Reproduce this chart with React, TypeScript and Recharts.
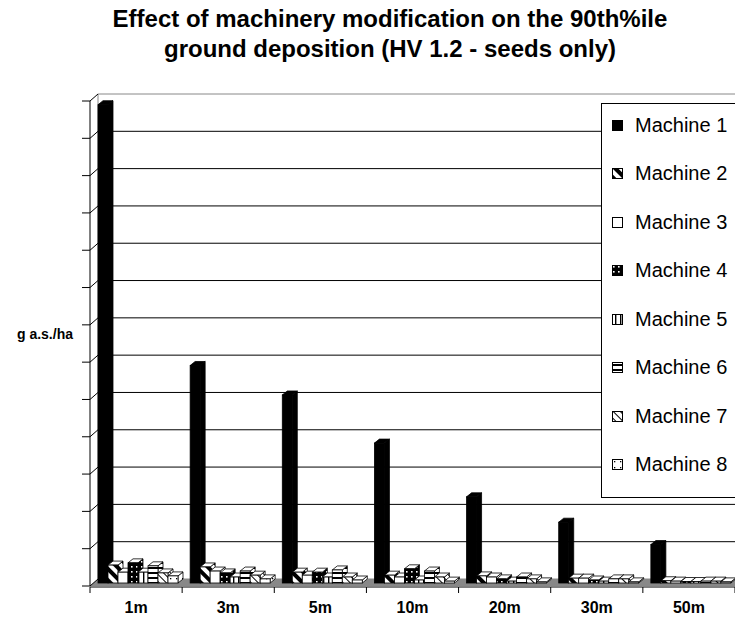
import React from 'react';
import { BarChart, Bar, XAxis, YAxis, CartesianGrid, ReferenceArea } from 'recharts';

const categories = ['1m', '3m', '5m', '10m', '20m', '30m', '50m'];
const machineNames = ['Machine 1', 'Machine 2', 'Machine 3', 'Machine 4', 'Machine 5', 'Machine 6', 'Machine 7', 'Machine 8'];

// g a.s./ha (axis has no numbers, unit = one gridline)
const machine1 = [12.82, 5.83, 5.04, 3.75, 2.31, 1.63, 1.03];
const machine2 = [0.48, 0.43, 0.29, 0.21, 0.19, 0.13, 0.06];
const machine3 = [0.29, 0.32, 0.21, 0.16, 0.16, 0.13, 0.05];
const machine4 = [0.54, 0.27, 0.29, 0.38, 0.11, 0.08, 0.04];
const machine5 = [0.29, 0.16, 0.16, 0.08, 0.05, 0.05, 0.04];
const machine6 = [0.46, 0.32, 0.35, 0.32, 0.16, 0.11, 0.05];
const machine7 = [0.27, 0.21, 0.16, 0.16, 0.11, 0.11, 0.05];
const machine8 = [0.19, 0.11, 0.08, 0.05, 0.03, 0.03, 0.03];

const yTicks = [0, 1, 2, 3, 4, 5, 6, 7, 8, 9, 10, 11, 12, 13];

const series = [machine1, machine2, machine3, machine4, machine5, machine6, machine7, machine8];
const fills = ['#000', 'url(#m2)', '#fff', 'url(#m4)', 'url(#m5)', 'url(#m6)', 'url(#m7)', 'url(#m8)'];

const data = categories.map((name, i) => {
  const row: Record<string, number | string> = { name };
  series.forEach((vals, s) => {
    row[`m${s + 1}`] = vals[i];
  });
  return row;
});

const W = 735;
const H = 617;
const TOP = 94;
const X_AXIS_H = 38;
const AXIS_W = 90;
const DEPTH_X = 8;
const DEPTH_Y = 7;
const BAR_DX = 5;
const BAR_DY = 4;
const FONT = '"Liberation Sans", Arial, sans-serif';
const STEP = (H - TOP - X_AXIS_H) / (yTicks.length - 1);
const BAND = (W - AXIS_W) / categories.length;

const YTick = (props: any) => {
  const { x, y, payload } = props;
  return (
    <g stroke="#000" strokeWidth={1} fill="none">
      <line x1={x - 8} y1={y + DEPTH_Y} x2={x} y2={y + DEPTH_Y} />
      <line x1={x} y1={y + DEPTH_Y} x2={x + DEPTH_X} y2={y} />
      {payload.value > 0 && <line x1={x} y1={y + DEPTH_Y} x2={x} y2={y + DEPTH_Y + STEP} />}
    </g>
  );
};

const XTick = (props: any) => {
  const { x, y, payload, index } = props;
  const left = x - BAND / 2;
  const right = x + BAND / 2;
  const ay = y + 8;
  return (
    <g>
      <line x1={left} y1={ay} x2={right} y2={ay} stroke="#000" />
      <line x1={left} y1={ay} x2={left} y2={ay + 6} stroke="#000" />
      {index === categories.length - 1 && <line x1={right} y1={ay} x2={right} y2={ay + 6} stroke="#000" />}
      <text x={x} y={y + 34} textAnchor="middle" fontFamily={FONT} fontWeight="bold" fontSize={16} fill="#000">
        {payload.value}
      </text>
    </g>
  );
};

const GridH = (p: any) => {
  const edge = Math.abs(p.y1 - TOP) < 1 || Math.abs(p.y1 - (H - X_AXIS_H)) < 1;
  return <line key={p.key} x1={p.x1 + DEPTH_X} y1={p.y1} x2={p.x2} y2={p.y2} stroke={edge ? '#888' : '#000'} strokeWidth={1} />;
};

const GridV = (p: any) => <line key={p.key} x1={p.x1} y1={p.y1} x2={p.x2} y2={p.y2} stroke="#888" strokeWidth={1} />;

const Floor = (props: any) => {
  const { x, y, width, height } = props;
  return (
    <polygon
      points={`${x + DEPTH_X},${y} ${x + width},${y} ${x + width},${y + height} ${x},${y + height}`}
      fill="#888"
    />
  );
};

// 3-d looking box: front, top and right side
const Box = (props: any) => {
  const { x, y, width, height, fill } = props;
  if (width == null || height == null) return null;
  const bx = x + 2;
  const by = y + BAR_DY;
  const w = width;
  const h = Math.max(height, 0);
  const dark = fill === '#000';
  return (
    <g stroke="#000" strokeWidth={0.8}>
      <polygon
        points={`${bx + w},${by} ${bx + w + BAR_DX},${by - BAR_DY} ${bx + w + BAR_DX},${by + h - BAR_DY} ${bx + w},${by + h}`}
        fill={fill}
      />
      <polygon
        points={`${bx},${by} ${bx + BAR_DX},${by - BAR_DY} ${bx + w + BAR_DX},${by - BAR_DY} ${bx + w},${by}`}
        fill={dark ? '#000' : '#fff'}
      />
      <rect x={bx} y={by} width={w} height={h} fill={fill} />
    </g>
  );
};

const Patterns = () => (
  <svg width={0} height={0} style={{ position: 'absolute' }}>
    <defs>
      <pattern id="m2" width={8} height={8} patternUnits="userSpaceOnUse" patternTransform="rotate(-45)">
        <rect width={8} height={8} fill="#fff" />
        <rect width={4} height={8} fill="#000" />
      </pattern>
      <pattern id="m4" width={5} height={5} patternUnits="userSpaceOnUse">
        <rect width={5} height={5} fill="#000" />
        <rect x={1} y={1} width={1.6} height={1.6} fill="#fff" />
      </pattern>
      <pattern id="m5" width={5} height={5} patternUnits="userSpaceOnUse">
        <rect width={5} height={5} fill="#fff" />
        <rect x={3} width={1.4} height={5} fill="#000" />
      </pattern>
      <pattern id="m6" width={5} height={5} patternUnits="userSpaceOnUse">
        <rect width={5} height={5} fill="#fff" />
        <rect y={2} width={5} height={2} fill="#000" />
      </pattern>
      <pattern id="m7" width={5} height={5} patternUnits="userSpaceOnUse" patternTransform="rotate(-45)">
        <rect width={5} height={5} fill="#fff" />
        <rect width={1} height={5} fill="#000" />
      </pattern>
      <pattern id="m8" width={6} height={6} patternUnits="userSpaceOnUse">
        <rect width={6} height={6} fill="#fff" />
        <rect x={2} y={2} width={1.3} height={1.3} fill="#000" />
      </pattern>
    </defs>
  </svg>
);

export default function App() {
  return (
    <div style={{ position: 'absolute', left: 0, top: 0, width: W, height: H, overflow: 'hidden', background: '#fff', fontFamily: FONT }}>
      <Patterns />
      <div
        style={{
          position: 'absolute',
          left: 0,
          top: 4,
          width: 780,
          textAlign: 'center',
          fontSize: 24,
          lineHeight: '30px',
          fontWeight: 'bold',
          color: '#000',
          whiteSpace: 'nowrap',
        }}
      >
        Effect of machinery modification on the 90th%ile
        <br />
        ground deposition (HV 1.2 - seeds only)
      </div>
      <div
        style={{
          position: 'absolute',
          left: 0,
          top: 326,
          width: 73,
          textAlign: 'right',
          fontSize: 14,
          lineHeight: '16px',
          fontWeight: 'bold',
          whiteSpace: 'nowrap',
        }}
      >
        g a.s./ha
      </div>
      <div style={{ position: 'absolute', left: 0, top: 0 }}>
        <BarChart
          width={W}
          height={H}
          data={data}
          margin={{ top: TOP, right: 0, bottom: 0, left: 0 }}
          barGap={0}
          barCategoryGap={6}
        >
          <CartesianGrid
            horizontal={GridH}
            vertical={GridV}
            verticalCoordinatesGenerator={({ offset }: any) => [offset.left + DEPTH_X]}
          />
          <ReferenceArea y1={-0.19} y2={0} ifOverflow="visible" shape={<Floor />} />
          <XAxis
            dataKey="name"
            height={X_AXIS_H}
            axisLine={false}
            tickLine={false}
            tickSize={0}
            tickMargin={0}
            interval={0}
            tick={<XTick />}
          />
          <YAxis
            width={AXIS_W}
            domain={[0, yTicks[yTicks.length - 1]]}
            ticks={yTicks}
            interval={0}
            axisLine={false}
            tickLine={false}
            tickSize={0}
            tickMargin={0}
            tick={<YTick />}
          />
          {machineNames.map((name, i) => (
            <Bar key={name} dataKey={`m${i + 1}`} name={name} fill={fills[i]} shape={<Box />} isAnimationActive={false} />
          ))}
        </BarChart>
      </div>
      <div
        style={{
          position: 'absolute',
          left: 601,
          top: 103,
          width: 134,
          height: 393,
          background: '#fff',
          borderTop: '1px solid #000',
          borderLeft: '1px solid #000',
          borderBottom: '1px solid #000',
        }}
      >
        {machineNames.map((name, i) => (
          <div
            key={name}
            style={{
              position: 'absolute',
              left: 10,
              top: 9 + i * 48.5,
              height: 24,
              display: 'flex',
              alignItems: 'center',
              whiteSpace: 'nowrap',
            }}
          >
            <svg width={11} height={11}>
              <rect x={0.5} y={0.5} width={10} height={10} fill={fills[i]} stroke="#000" />
            </svg>
            <span style={{ marginLeft: 12, fontSize: 20, color: '#000' }}>{name}</span>
          </div>
        ))}
      </div>
    </div>
  );
}
